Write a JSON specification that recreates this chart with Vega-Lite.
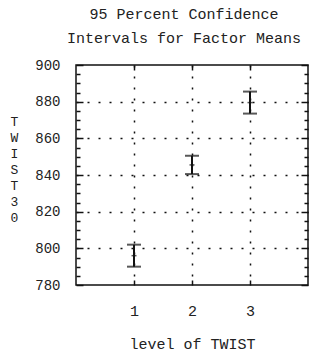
{
  "$schema": "https://vega.github.io/schema/vega-lite/v6.json",
  "autosize": "none",
  "width": 232,
  "height": 220,
  "padding": {"left": 76, "top": 65, "right": 15, "bottom": 70},
  "background": "white",
  "config": {
    "font": "Liberation Mono",
    "view": {"stroke": "#111", "strokeWidth": 1.5},
    "axis": {"labelFont": "Liberation Mono", "titleFont": "Liberation Mono", "labelColor": "#222", "titleColor": "#222", "titleFontWeight": "normal", "ticks": true}
  },
  "title": {
    "text": ["95 Percent Confidence", "Intervals for Factor Means"],
    "font": "Liberation Mono",
    "fontSize": 15,
    "fontWeight": "normal",
    "color": "#222",
    "lineHeight": 24,
    "anchor": "middle",
    "dx": -8,
    "offset": 12
  },
  "data": {
    "values": [
      {"level": 1, "lo": 790, "hi": 802, "mean": 796},
      {"level": 2, "lo": 840.5, "hi": 850.5, "mean": 845.5},
      {"level": 3, "lo": 873.5, "hi": 885.5, "mean": 879.5}
    ]
  },
  "resolve": {"axis": {"x": "independent", "y": "independent"}},
  "layer": [
    {
      "mark": {"type": "rule", "color": "#111", "strokeWidth": 2},
      "encoding": {
        "x": {
          "field": "level", "type": "quantitative",
          "scale": {"domain": [0, 4], "nice": false, "zero": false},
          "axis": {
            "values": [1, 2, 3], "title": "level of TWIST", "titleFontSize": 15, "titlePadding": 18,
            "labelFontSize": 15, "labelPadding": 18, "ticks": true, "offset": -5, "tickSize": 5, "tickColor": "#111", "tickWidth": 1.5,
            "domain": false, "grid": true, "gridColor": "#111", "gridDash": [2, 9], "gridWidth": 1.5
          }
        },
        "y": {
          "field": "lo", "type": "quantitative",
          "scale": {"domain": [780, 900], "nice": false, "zero": false},
          "axis": {
            "values": [780, 800, 820, 840, 860, 880, 900],
            "labelOverlap": false, "labelBound": false, "labelFontSize": 14, "labelPadding": 16,
            "ticks": true, "offset": -7, "tickSize": 7,
            "tickColor": "#111", "tickWidth": 1.5,
            "domain": false, "grid": true, "gridColor": "#111", "gridDash": [2, 9], "gridWidth": 1.5,
            "gridOpacity": {"condition": {"test": "datum.value > 780 && datum.value < 900", "value": 1}, "value": 0},
            "title": ["T", "W", "I", "S", "T", "3", "0"],
            "titleAngle": 0, "titleFontSize": 13, "titleLineHeight": 16,
            "titleX": -69, "titleY": 50, "titleAlign": "center", "titleBaseline": "top"
          }
        },
        "y2": {"field": "hi"}
      }
    },
    {
      "mark": {"type": "tick", "color": "#111", "thickness": 2, "size": 14, "orient": "horizontal"},
      "encoding": {
        "x": {
          "field": "level", "type": "quantitative",
          "scale": {"domain": [0, 4], "nice": false, "zero": false},
          "axis": {"orient": "top", "values": [1, 2, 3], "labels": false, "title": null, "ticks": true, "offset": -5, "tickSize": 5, "tickColor": "#111", "tickWidth": 1.5, "domain": false, "grid": false}
        },
        "y": {
          "field": "lo", "type": "quantitative",
          "scale": {"domain": [780, 900], "nice": false, "zero": false},
          "axis": {
            "orient": "right",
            "values": [780, 800, 820, 840, 860, 880, 900],
            "labels": false, "title": null, "domain": false, "grid": false,
            "ticks": true, "offset": -7, "tickSize": 7, "tickColor": "#111", "tickWidth": 1.5
          }
        }
      }
    },
    {
      "mark": {"type": "tick", "color": "#111", "thickness": 2, "size": 14, "orient": "horizontal"},
      "encoding": {
        "x": {"field": "level", "type": "quantitative", "scale": {"domain": [0, 4], "nice": false, "zero": false}, "axis": null},
        "y": {
          "field": "hi", "type": "quantitative", "scale": {"domain": [780, 900], "nice": false, "zero": false},
          "axis": {
            "orient": "left",
            "values": [785, 790, 795, 805, 810, 815, 825, 830, 835, 845, 850, 855, 865, 870, 875, 885, 890, 895],
            "labels": false, "title": null, "domain": false, "grid": false,
            "ticks": true, "offset": -4, "tickSize": 4, "tickColor": "#111", "tickWidth": 1.5
          }
        }
      }
    },
    {
      "mark": {"type": "tick", "color": "#111", "thickness": 1.5, "size": 5, "orient": "horizontal"},
      "encoding": {
        "x": {"field": "level", "type": "quantitative", "scale": {"domain": [0, 4], "nice": false, "zero": false}, "axis": null},
        "y": {
          "field": "mean", "type": "quantitative", "scale": {"domain": [780, 900], "nice": false, "zero": false},
          "axis": {
            "orient": "right",
            "values": [785, 790, 795, 805, 810, 815, 825, 830, 835, 845, 850, 855, 865, 870, 875, 885, 890, 895],
            "labels": false, "title": null, "domain": false, "grid": false,
            "ticks": true, "offset": -4, "tickSize": 4, "tickColor": "#111", "tickWidth": 1.5
          }
        }
      }
    }
  ]
}
